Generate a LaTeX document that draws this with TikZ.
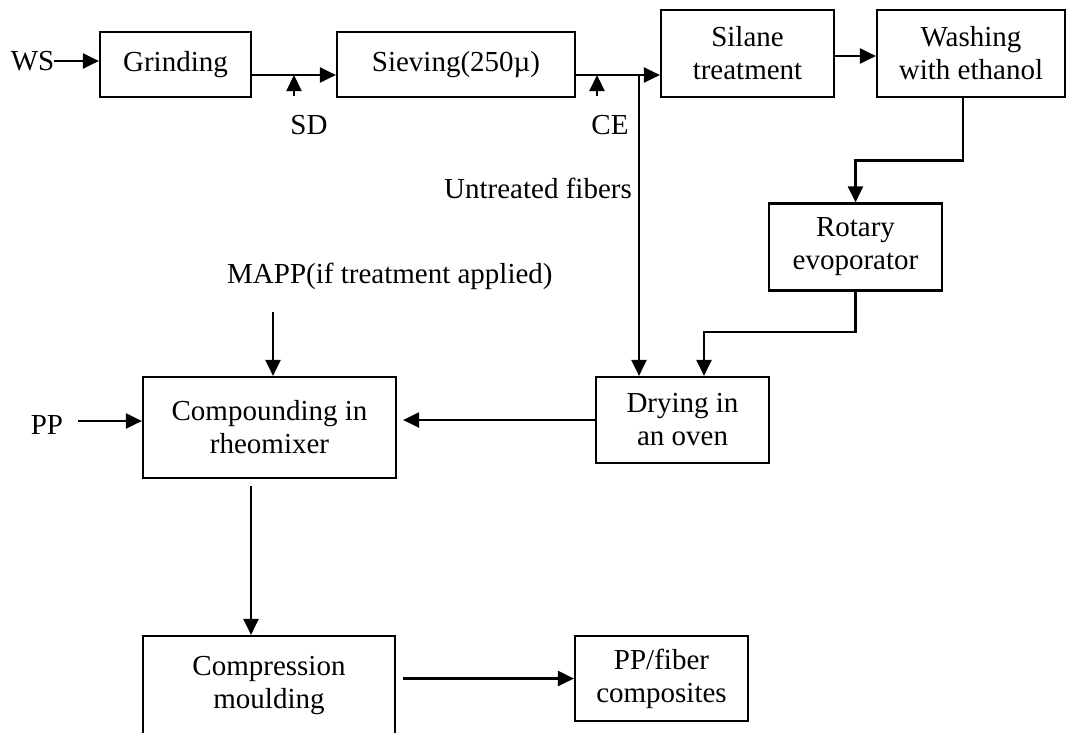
\documentclass[tikz,border=0pt]{standalone}
\usepackage{fontspec}
\setmainfont{Liberation Serif}
\usetikzlibrary{arrows.meta}
\begin{document}
\begin{tikzpicture}[x=1pt,y=-1pt,
  every node/.style={font=\fontsize{29}{33}\selectfont},
  box/.style={draw, line width=2.2pt, align=center, inner sep=0pt},
  lbl/.style={inner sep=0pt},
  arr/.style={line width=2.2pt, -{Triangle[length=16pt,width=15pt]}}]
\clip (0,0) rectangle (1067,732);
\fill[white] (0,0) rectangle (1067,732);
% boxes
\node[box, minimum width=151pt, minimum height=65pt] (grind) at (175.5,64.5) {Grinding};
\node[box, minimum width=238pt, minimum height=65pt] (sieve) at (456,64.5) {Sieving(250µ)};
\node[box, minimum width=173pt, minimum height=87pt] (silane) at (747.5,53.5) {Silane\\treatment};
\node[box, minimum width=188pt, minimum height=87pt] (wash) at (971,53.5) {Washing\\with ethanol};
\node[box, minimum width=173pt, minimum height=87pt] (rotary) at (855.5,247) {Rotary\\evoporator};
\node[box, minimum width=173pt, minimum height=86pt] (dry) at (682.5,420) {Drying in\\an oven};
\node[box, minimum width=253pt, minimum height=101pt] (comp) at (269.5,427.5) {Compounding in\\rheomixer};
\node[box, minimum width=252pt, minimum height=99pt] (cm) at (269,685.5) {Compression\\moulding};
\node[box, minimum width=173pt, minimum height=85pt] (pf) at (661.5,678.5) {PP/fiber\\composites};
% labels
\node[lbl] (ws) at (32.5,61) {WS};
\node[lbl] (sd) at (309,125) {SD};
\node[lbl] (ce) at (610,125) {CE};
\node[lbl, anchor=east] (unt) at (632,188) {Untreated fibers};
\node[lbl, anchor=west] (mapp) at (227,276) {MAPP(if treatment applied)};
\node[lbl] (pp) at (47,425) {PP};
% coordinates
\coordinate (sdtail) at (294,96);
\coordinate (sdtip) at (294,75);
\coordinate (cetail) at (597,96);
\coordinate (cetip) at (597,75);
\coordinate (j1) at (639,75);
\coordinate (mappend) at (273,312);
% connectors
\draw[arr] (ws.east) -- (grind.west |- ws.east);
\draw[arr] ([yshift=-10.5pt]grind.east) -- ([yshift=-10.5pt]sieve.west);
\draw[arr] (sdtail) -- (sdtip);
\draw[arr] (cetail) -- (cetip);
\draw[arr] ([yshift=-10.5pt]sieve.east) -- (silane.west |- j1);
\draw[arr] (j1) -- (dry.north -| j1);
\draw[arr] ([yshift=-2.5pt]silane.east) -- ([yshift=-2.5pt]wash.west);
\draw[arr] ([xshift=-8pt]wash.south) |- ([yshift=42pt]rotary.north) -- (rotary.north);
\draw[arr] (rotary.south) |- ([xshift=21.5pt,yshift=44pt]dry.north) -- ([xshift=21.5pt]dry.north);
\draw[arr] (dry.west) -- ([xshift=6pt,yshift=7.5pt]comp.east);
\draw[arr] ([xshift=15pt,yshift=4pt]pp.east) -- ([yshift=6.5pt]comp.west);
\draw[arr] (mappend) -- (comp.north -| mappend);
\draw[arr] ([xshift=-18.5pt,yshift=-7pt]comp.south) -- ([xshift=-18pt]cm.north);
\draw[arr] ([xshift=7pt]cm.east |- pf.west) -- (pf.west);
\end{tikzpicture}
\end{document}
